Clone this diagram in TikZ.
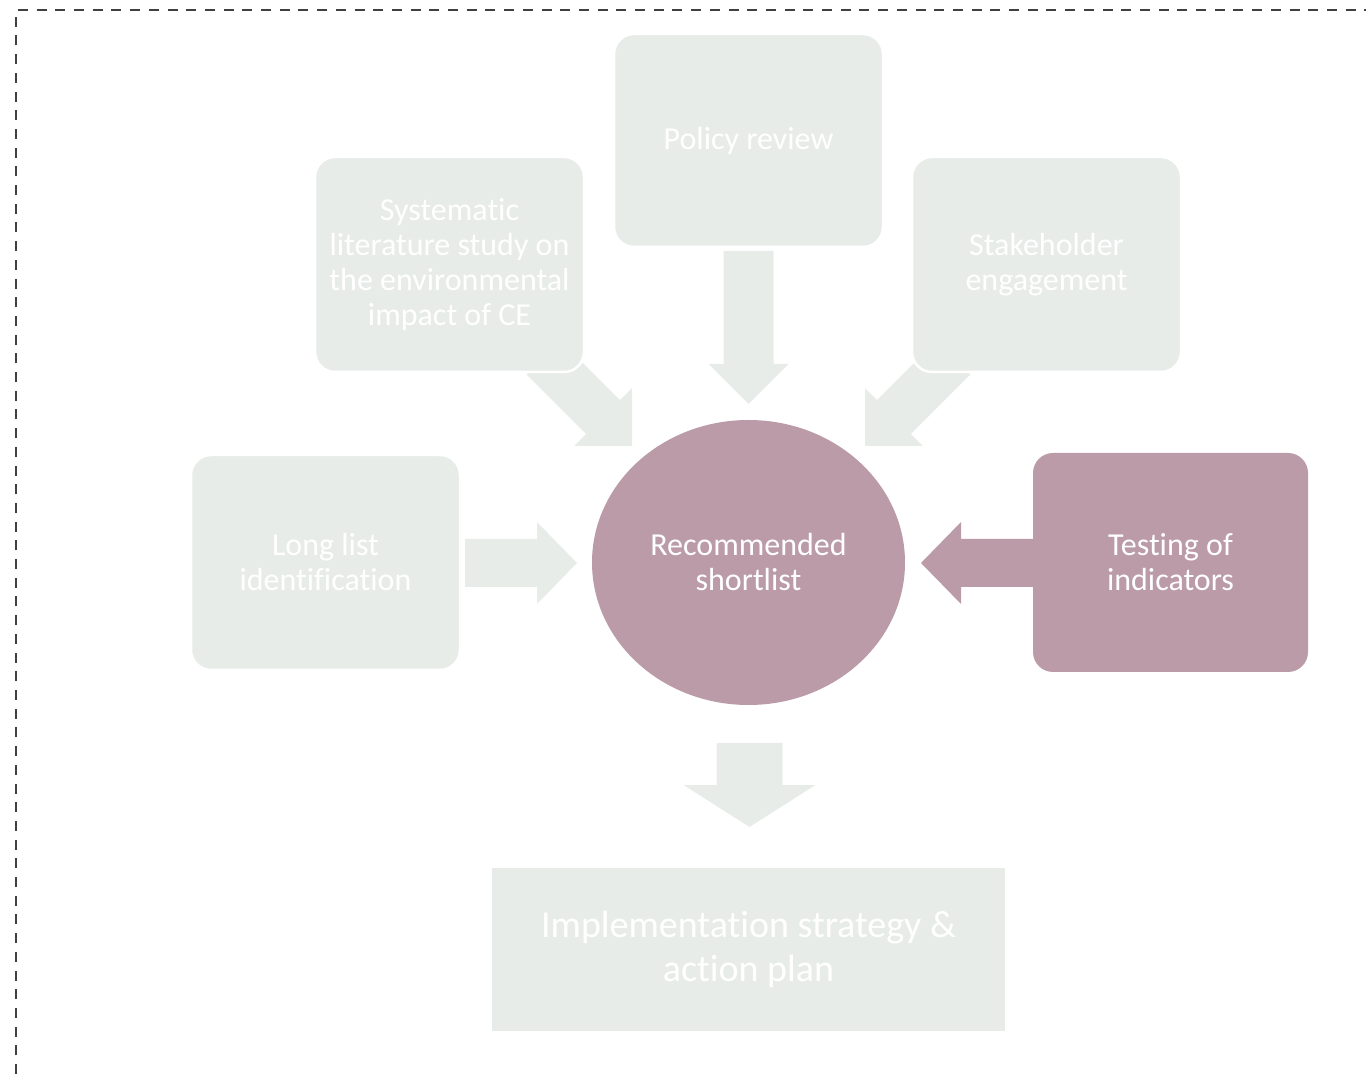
\documentclass[tikz,border=0pt]{standalone}
\usepackage{fontspec}
\setmainfont{Carlito}[Ligatures=NoCommon]
\usetikzlibrary{shapes.geometric}
\definecolor{sage}{RGB}{231,236,233}
\definecolor{mauve}{RGB}{186,155,167}
\definecolor{framegray}{RGB}{64,64,64}

\tikzset{
  card/.style={fill=sage, draw=white, line width=1.25pt, rounded corners=10pt,
    text=white, align=center, inner sep=0pt,
    font=\fontsize{16}{17.5}\selectfont},
  hub/.style={ellipse, fill=mauve, text=white, align=center, inner sep=0pt,
    font=\fontsize{16}{17.5}\selectfont},
  outcome/.style={rectangle, fill=sage, text=white, align=center, inner sep=0pt,
    font=\fontsize{19}{22}\selectfont},
  % block arrow pointing along +x, tip at the origin:
  % total length / head length / head half-width / shaft half-width
  pics/blockarrow/.style args={#1/#2/#3/#4}{code={
    \fill (0,0) -- (-#2,#3) -- (-#2,#4) -- (-#1,#4) -- (-#1,-#4)
          -- (-#2,-#4) -- (-#2,-#3) -- cycle;}}
}

\begin{document}
\begin{tikzpicture}[x=0.5pt,y=-0.5pt]
  \useasboundingbox (0,0) rectangle (1366,1074);

  % dashed frame (top and left edges)
  \draw[framegray, line width=1pt, dash pattern=on 5pt off 4.35pt]
    (16,1074) -- (16,10) -- (1366,10);

  % arrow tips
  \coordinate (tipLit)   at (632,446);
  \coordinate (tipPol)   at (748.5,404);
  \coordinate (tipStk)   at (865,446);
  \coordinate (tipLong)  at (577,563);
  \coordinate (tipTest)  at (921,563);
  \coordinate (tipImpl)  at (749.5,827);

  % block arrows
  \pic[fill=sage, rotate=-45]  at (tipLit)  {blockarrow={125/41/41/24}};
  \pic[fill=sage, rotate=-90]  at (tipPol)  {blockarrow={153/40/40/25}};
  \pic[fill=sage, rotate=-135] at (tipStk)  {blockarrow={125/41/41/24}};
  \pic[fill=sage]              at (tipLong) {blockarrow={112/40/41/24}};
  \pic[fill=mauve, rotate=180] at (tipTest) {blockarrow={140/40/41/24}};
  \pic[fill=sage, rotate=-90]  at (tipImpl) {blockarrow={84/42/66/33}};

  % source boxes
  \node[card, minimum width=134.5pt, minimum height=106.5pt] (policy)
    at (748.5,140.5) {Policy review};
  \node[card, minimum width=134.5pt, minimum height=107.5pt] (lit)
    at (449.5,264.5) {Systematic\\literature study on\\the environmental\\impact of CE};
  \node[card, minimum width=134.5pt, minimum height=107.5pt] (stake)
    at (1046.5,264.5) {Stakeholder\\engagement};
  \node[card, minimum width=134.5pt, minimum height=107.5pt] (longlist)
    at (325.5,562.5) {Long list\\identification};
  \node[card, fill=mauve, draw=none, minimum width=137.5pt, minimum height=109.5pt] (testing)
    at (1170.5,562.5) {Testing of\\indicators};

  % central result
  \node[hub, minimum width=156.5pt, minimum height=142.5pt] (shortlist)
    at (748.5,562.5) {Recommended\\shortlist};

  % final step
  \node[outcome, minimum width=256.5pt, minimum height=81.5pt] (impl)
    at (748.5,949.5) {Implementation strategy \&\\action plan};
\end{tikzpicture}
\end{document}
